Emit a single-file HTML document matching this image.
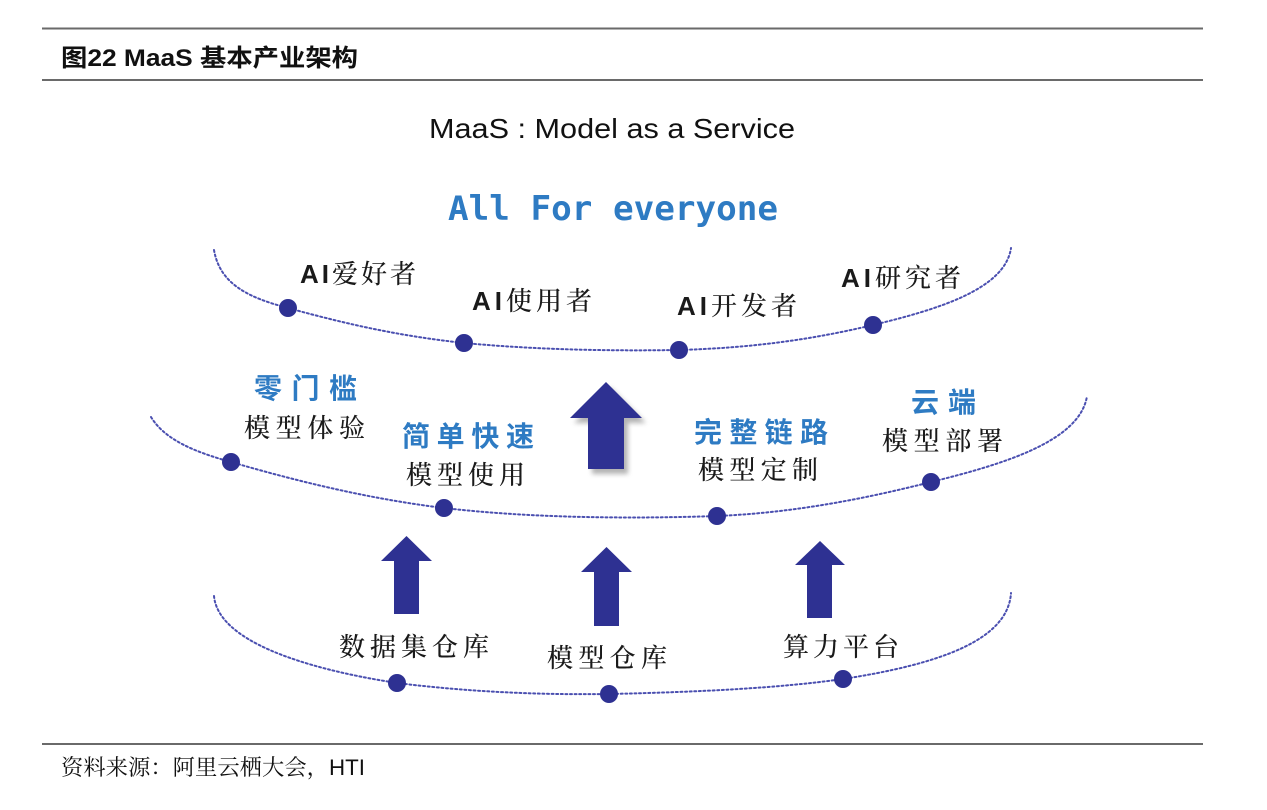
<!DOCTYPE html>
<html>
<head>
<meta charset="utf-8">
<style>
  html,body{margin:0;padding:0;background:#fff;}
  svg{display:block;}
  .cn{font-family:"Liberation Sans","Noto Serif CJK SC","Noto Sans CJK SC",serif;fill:#1a1a1a;font-weight:500;}
  .blue{font-family:"Liberation Sans","Noto Sans CJK SC",sans-serif;font-weight:bold;fill:#2e7bc3;}
</style>
</head>
<body>
<svg width="1267" height="810" viewBox="0 0 1267 810" xmlns="http://www.w3.org/2000/svg">
  <defs>
    <filter id="sh" x="-30%" y="-30%" width="160%" height="160%">
      <feGaussianBlur stdDeviation="2.5"/>
    </filter>
  </defs>
  <rect width="1267" height="810" fill="#fff"/>

  <!-- header / footer rules -->
  <line x1="42" y1="28.5" x2="1203" y2="28.5" stroke="#6a6a6a" stroke-width="2"/>
  <line x1="42" y1="80" x2="1203" y2="80" stroke="#6a6a6a" stroke-width="2"/>
  <line x1="42" y1="744" x2="1203" y2="744" stroke="#6a6a6a" stroke-width="2"/>

  <text x="61" y="66" font-family="Liberation Sans, Noto Sans CJK SC, sans-serif" font-weight="bold" font-size="24" fill="#111" textLength="297" lengthAdjust="spacingAndGlyphs">图22 MaaS 基本产业架构</text>

  <text x="61" y="775" font-family="Liberation Sans, Noto Serif CJK SC, serif" font-size="22" fill="#111" textLength="304" lengthAdjust="spacingAndGlyphs">资料来源：阿里云栖大会，HTI</text>

  <!-- titles -->
  <text x="429" y="138" font-family="Liberation Sans, Arial, sans-serif" font-size="28" fill="#111" textLength="366" lengthAdjust="spacingAndGlyphs">MaaS : Model as a Service</text>
  <text x="448" y="220" font-family="DejaVu Sans Mono, Liberation Mono, monospace" font-weight="bold" font-size="34" fill="#2e7bc3" textLength="330" lengthAdjust="spacingAndGlyphs">All For everyone</text>

  <!-- dotted curves -->
  <g fill="none" stroke="#4a4fb0" stroke-width="2" stroke-dasharray="2 2.6" stroke-linecap="round">
    <path d="M 214 250 C 220 285 250 298 288 308 C 350 325 400 336 464 343 C 540 350 610 351 679 350 C 750 348 810 340 873 325 C 935 310 1005 290 1011 248"/>
    <path d="M 151 417 C 165 440 195 452 231 462 C 300 482 370 499 444 508 C 530 518 630 519 717 516 C 790 513 860 500 931 482 C 1000 465 1080 442 1087 396"/>
    <path d="M 214 596 C 218 640 300 668 397 683 C 470 692 540 695 609 694 C 700 692 780 688 843 679 C 940 664 1008 640 1011 593"/>
  </g>

  <!-- dots -->
  <g fill="#2e3192">
    <circle cx="288" cy="308" r="9"/>
    <circle cx="464" cy="343" r="9"/>
    <circle cx="679" cy="350" r="9"/>
    <circle cx="873" cy="325" r="9"/>
    <circle cx="231" cy="462" r="9"/>
    <circle cx="444" cy="508" r="9"/>
    <circle cx="717" cy="516" r="9"/>
    <circle cx="931" cy="482" r="9"/>
    <circle cx="397" cy="683" r="9"/>
    <circle cx="609" cy="694" r="9"/>
    <circle cx="843" cy="679" r="9"/>
  </g>

  <!-- big arrow with shadow -->
  <polygon points="610,387 646,423 628,423 628,474 592,474 592,423 574,423" fill="#777" opacity="0.55" filter="url(#sh)"/>
  <polygon points="606,382 642,418 624,418 624,469 588,469 588,418 570,418" fill="#2e3192"/>

  <!-- small arrows -->
  <g fill="#2e3192">
    <polygon points="406.5,536 432,561 419,561 419,614 394,614 394,561 381,561"/>
    <polygon points="606.5,547 632,572 619,572 619,626 594,626 594,572 581,572"/>
    <polygon points="820,541 845,565 832,565 832,618 807,618 807,565 795,565"/>
  </g>

  <!-- layer 1 labels -->
  <g class="cn" font-size="26">
    <text x="300" y="283" textLength="116" lengthAdjust="spacing"><tspan font-weight="bold">AI</tspan>爱好者</text>
    <text x="472" y="310" textLength="120" lengthAdjust="spacing"><tspan font-weight="bold">AI</tspan>使用者</text>
    <text x="677" y="315" textLength="120" lengthAdjust="spacing"><tspan font-weight="bold">AI</tspan>开发者</text>
    <text x="841" y="287" textLength="120" lengthAdjust="spacing"><tspan font-weight="bold">AI</tspan>研究者</text>
  </g>

  <!-- layer 2 labels -->
  <g class="blue" font-size="28">
    <text x="254" y="398" textLength="103" lengthAdjust="spacing">零门槛</text>
    <text x="402" y="446" textLength="132" lengthAdjust="spacing">简单快速</text>
    <text x="694" y="442" textLength="134" lengthAdjust="spacing">完整链路</text>
    <text x="911" y="412" textLength="65" lengthAdjust="spacing">云端</text>
  </g>
  <g class="cn" font-size="26">
    <text x="244" y="437" textLength="121" lengthAdjust="spacing">模型体验</text>
    <text x="406" y="484" textLength="119" lengthAdjust="spacing">模型使用</text>
    <text x="698" y="479" textLength="120" lengthAdjust="spacing">模型定制</text>
    <text x="882" y="450" textLength="121" lengthAdjust="spacing">模型部署</text>
  </g>

  <!-- layer 3 labels -->
  <g class="cn" font-size="26">
    <text x="339" y="656" textLength="150" lengthAdjust="spacing">数据集仓库</text>
    <text x="547" y="667" textLength="120" lengthAdjust="spacing">模型仓库</text>
    <text x="783" y="656" textLength="116" lengthAdjust="spacing">算力平台</text>
  </g>
</svg>
</body>
</html>
